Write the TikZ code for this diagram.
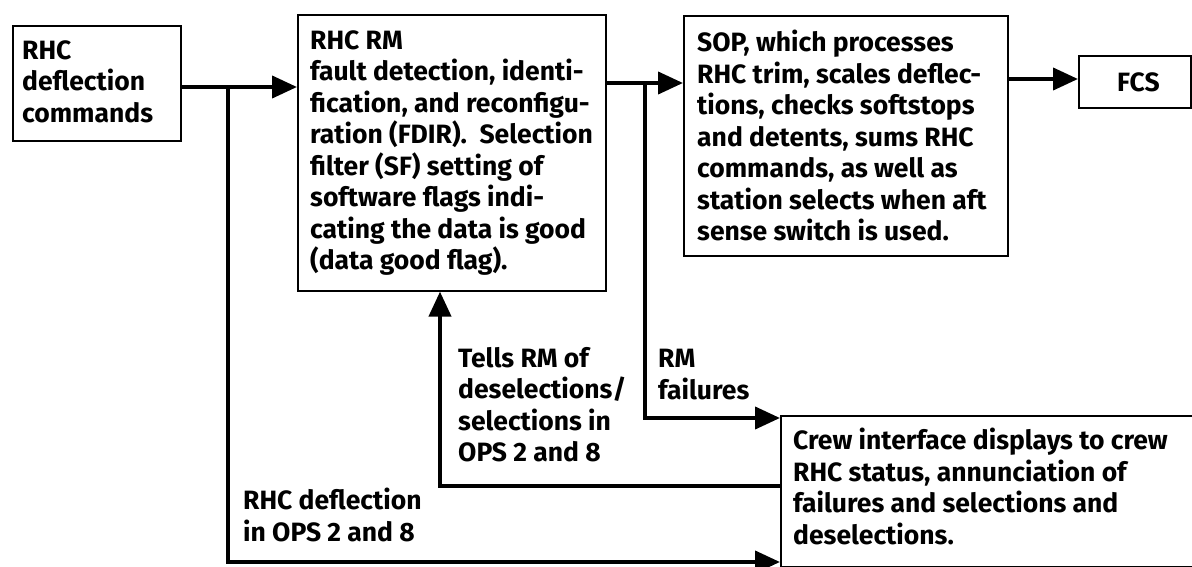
\documentclass[tikz,border=0pt]{standalone}
\usepackage{fontspec}
\setmainfont{Fira Sans}
\usetikzlibrary{arrows.meta}
\begin{document}
\begin{tikzpicture}[x=1pt,y=-1pt,
  box/.style={draw, line width=1.6pt, inner sep=0pt, anchor=north west},
  txt/.style={inner sep=0pt, anchor=north west, align=left, font=\fontsize{26.5}{31.5}\selectfont\bfseries},
  flow/.style={line width=4pt},
  arr/.style={flow, -{Triangle[length=25pt,width=22pt]}},
]
\useasboundingbox (0,0) rectangle (1192,567);
% boxes
\node[box, minimum width=168pt, minimum height=115pt] (cmd) at (12,25) {};
\node[box, minimum width=308pt, minimum height=276pt] (rm) at (297,14) {};
\node[box, minimum width=324pt, minimum height=240pt] (sop) at (683,15) {};
\node[box, minimum width=112pt, minimum height=52pt] (fcs) at (1078,55) {};
\node[box, minimum width=430pt, minimum height=151pt] (crew) at (780,415) {};
% texts
\node[txt] (tcmd) at (22,40) {RHC\\deflection\\commands};
\node[txt] (trm) at (310,30) {RHC RM\\fault detection, identi-\\fication, and reconfigu-\\ration (FDIR).\ \ Selection\\filter (SF) setting of\\software flags indi-\\cating the data is good\\(data good flag).};
\node[txt] (tsop) at (697,30) {SOP, which processes\\RHC trim, scales deflec-\\tions, checks softstops\\and detents, sums RHC\\commands, as well as\\station selects when aft\\sense switch is used.};
\node[txt] (tfcs) at (1117,72) {FCS};
\node[txt] (tcrew) at (793,428) {Crew interface displays to crew\\RHC status, annunciation of\\failures and selections and\\deselections.};
\node[txt] (ttells) at (458,347) {Tells RM of\\deselections/\\selections in\\OPS 2 and 8};
\node[txt] (tfail) at (658,349) {RM\\failures};
\node[txt] (tdefl) at (243,488) {RHC deflection\\in OPS 2 and 8};
% connectors
\coordinate (j1) at (228,87);
\coordinate (b1) at (228,562);
\coordinate (j2) at (645,83);
\coordinate (f2) at (645,418);
\coordinate (fb) at (440,486);
\coordinate (fc) at (0,79);
\draw[arr] (cmd.east |- j1) -- (rm.west |- j1);
\draw[arr] (j1) -- (b1) -- (crew.west |- b1);
\draw[arr] (rm.east |- j2) -- (sop.west |- j2);
\draw[arr] (j2) -- (f2) -- (crew.west |- f2);
\draw[arr] (crew.west |- fb) -- (fb) -- (fb |- rm.south);
\draw[arr] (sop.east |- fc) -- (fcs.west |- fc);
\end{tikzpicture}
\end{document}
